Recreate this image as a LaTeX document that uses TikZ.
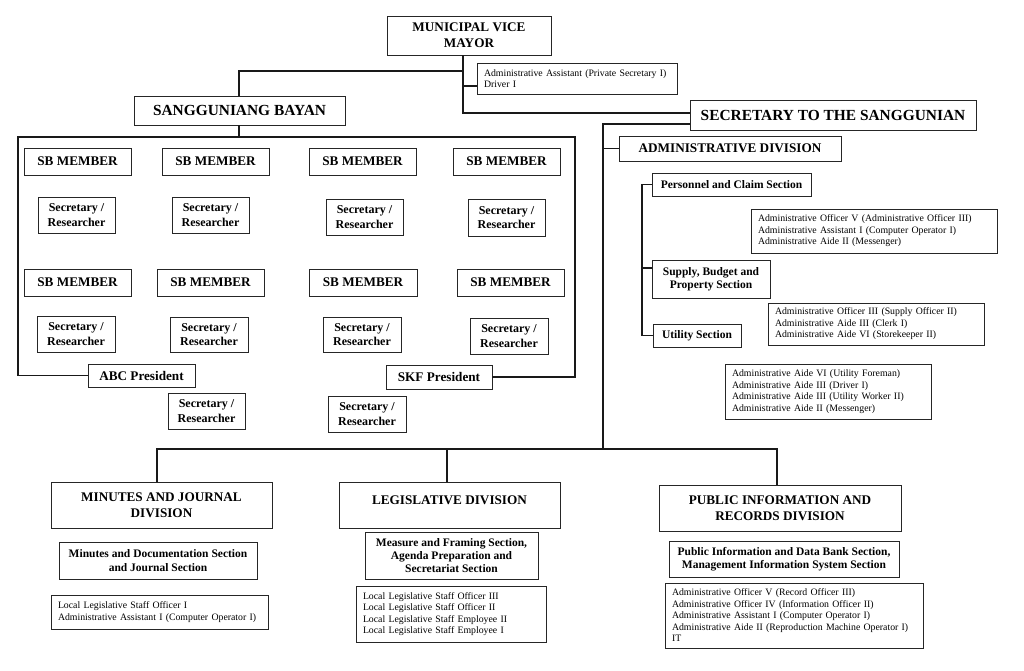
\documentclass[tikz,border=0pt]{standalone}
\usepackage{fontspec}
\setmainfont{Liberation Serif}
\begin{document}
\begin{tikzpicture}[x=1pt,y=-1pt,
  bx/.style={draw=black!85, line width=0.9pt, inner sep=0pt, align=center},
  tA/.style={font=\fontsize{15.4}{17}\selectfont\bfseries},
  tB/.style={font=\fontsize{13.2}{16}\selectfont\bfseries},
  tC/.style={font=\fontsize{12}{14.3}\selectfont\bfseries},
  tD/.style={font=\fontsize{11.5}{13.3}\selectfont\bfseries},
  staff/.style={draw=black!85, line width=0.9pt, inner xsep=7pt, inner ysep=0pt, align=left, font=\fontsize{9.8}{11.5}\selectfont},
  wire/.style={draw=black!90, line width=1.6pt}]
\useasboundingbox (0,0) rectangle (1024,670);
\fill[white] (0,0) rectangle (1024,670);

% top
\node[bx,tB,minimum width=164pt,minimum height=39pt] (mvm) at (469,35.5) {MUNICIPAL VICE\\MAYOR};
\node[staff,text width=186pt,minimum height=31pt] (mvmstaff) at (577,78.5) {Administrative Assistant (Private Secretary I)\\Driver I};
\node[bx,tA,minimum width=211pt,minimum height=29pt] (sb) at (239.5,110.5) {SANGGUNIANG BAYAN};
\node[bx,tA,minimum width=286pt,minimum height=30pt] (sec) at (833,115) {SECRETARY TO THE SANGGUNIAN};

% SB members
\node[bx,tB,minimum width=107pt,minimum height=27pt] (sb1) at (77.5,161.5) {SB MEMBER};
\node[bx,tB,minimum width=107pt,minimum height=27pt] (sb2) at (215.5,161.5) {SB MEMBER};
\node[bx,tB,minimum width=107pt,minimum height=27pt] (sb3) at (362.5,161.5) {SB MEMBER};
\node[bx,tB,minimum width=107pt,minimum height=27pt] (sb4) at (506.5,161.5) {SB MEMBER};
\node[bx,tC,minimum width=77pt,minimum height=36pt] (s1) at (76.5,215) {Secretary /\\Researcher};
\node[bx,tC,minimum width=77pt,minimum height=36pt] (s2) at (210.5,215) {Secretary /\\Researcher};
\node[bx,tC,minimum width=77pt,minimum height=36pt] (s3) at (364.5,217) {Secretary /\\Researcher};
\node[bx,tC,minimum width=77pt,minimum height=37pt] (s4) at (506.5,217.5) {Secretary /\\Researcher};
\node[bx,tB,minimum width=107pt,minimum height=27pt] (sb5) at (77.5,282.5) {SB MEMBER};
\node[bx,tB,minimum width=107pt,minimum height=27pt] (sb6) at (210.5,282.5) {SB MEMBER};
\node[bx,tB,minimum width=108pt,minimum height=27pt] (sb7) at (363,282.5) {SB MEMBER};
\node[bx,tB,minimum width=107pt,minimum height=27pt] (sb8) at (510.5,282.5) {SB MEMBER};
\node[bx,tC,minimum width=78pt,minimum height=36pt] (s5) at (76,334) {Secretary /\\Researcher};
\node[bx,tC,minimum width=78pt,minimum height=35pt] (s6) at (209,334.5) {Secretary /\\Researcher};
\node[bx,tC,minimum width=78pt,minimum height=35pt] (s7) at (362,334.5) {Secretary /\\Researcher};
\node[bx,tC,minimum width=78pt,minimum height=36pt] (s8) at (509,336) {Secretary /\\Researcher};
\node[bx,tB,minimum width=107pt,minimum height=23pt] (abc) at (141.5,375.5) {ABC President};
\node[bx,tC,minimum width=77pt,minimum height=36pt] (sabc) at (206.5,411) {Secretary /\\Researcher};
\node[bx,tB,minimum width=106pt,minimum height=24pt] (skf) at (439,377) {SKF President};
\node[bx,tC,minimum width=78pt,minimum height=36pt] (sskf) at (367,414) {Secretary /\\Researcher};

% administrative division
\node[bx,tB,minimum width=222pt,minimum height=25pt] (adm) at (730,148.5) {ADMINISTRATIVE DIVISION};
\node[bx,tD,minimum width=159pt,minimum height=23pt] (pers) at (731.5,184.5) {Personnel and Claim Section};
\node[staff,text width=232pt,minimum height=44pt] (staffA) at (874,231) {Administrative Officer V (Administrative Officer III)\\Administrative Assistant I (Computer Operator I)\\Administrative Aide II (Messenger)};
\node[bx,tD,minimum width=118pt,minimum height=38pt] (supply) at (711,279) {Supply, Budget and\\Property Section};
\node[staff,text width=202pt,minimum height=42pt] (staffB) at (876,324) {Administrative Officer III (Supply Officer II)\\Administrative Aide III (Clerk I)\\Administrative Aide VI (Storekeeper II)};
\node[bx,tD,minimum width=88pt,minimum height=23pt] (util) at (697,335.5) {Utility Section};
\node[staff,text width=192pt,minimum height=55pt] (staffC) at (828,391.5) {Administrative Aide VI (Utility Foreman)\\Administrative Aide III (Driver I)\\Administrative Aide III (Utility Worker II)\\Administrative Aide II (Messenger)};

% bottom divisions
\node[bx,tB,minimum width=221pt,minimum height=46pt] (mjd) at (161.5,505) {MINUTES AND JOURNAL\\DIVISION};
\node[bx,tD,minimum width=198pt,minimum height=37pt] (mjs) at (158,560.5) {Minutes and Documentation Section\\and Journal Section};
\node[staff,text width=203pt,minimum height=34pt] (mjstaff) at (159.5,612) {Local Legislative Staff Officer I\\Administrative Assistant I (Computer Operator I)};
\node[bx,tB,minimum width=221pt,minimum height=46pt,text depth=10pt] (leg) at (449.5,505) {LEGISLATIVE DIVISION};
\node[bx,tD,minimum width=173pt,minimum height=47pt] (legs) at (451.5,555.5) {Measure and Framing Section,\\Agenda Preparation and\\Secretariat Section};
\node[staff,text width=176pt,minimum height=56pt] (legstaff) at (451,614) {Local Legislative Staff Officer III\\Local Legislative Staff Officer II\\Local Legislative Staff Employee II\\Local Legislative Staff Employee I};
\node[bx,tB,minimum width=242pt,minimum height=46pt] (pird) at (780,508) {PUBLIC INFORMATION AND\\RECORDS DIVISION};
\node[bx,tD,minimum width=230pt,minimum height=36pt] (pirds) at (784,559) {Public Information and Data Bank Section,\\Management Information System Section};
\node[staff,text width=244pt,minimum height=65pt] (pirdstaff) at (794,615.5) {Administrative Officer V (Record Officer III)\\Administrative Officer IV (Information Officer II)\\Administrative Assistant I (Computer Operator I)\\Administrative Aide II (Reproduction Machine Operator I)\\IT};

% junction coordinates
\coordinate (jm1) at (463,71);
\coordinate (jm2) at (463,86);
\coordinate (jm3) at (463,113);
\coordinate (jsb) at (239,71);
\coordinate (ftl) at (18,137);
\coordinate (ftr) at (575,137);
\coordinate (jsec) at (603,124);
\coordinate (bus) at (603,449);
\coordinate (bl) at (157,449);
\coordinate (bm) at (447,449);
\coordinate (br) at (777,449);
\coordinate (pb) at (642,184.5);
\coordinate (sj) at (642,268);

% connectors
\draw[wire] (mvm.south -| jm1) -- (jm3) -- (sec.west |- jm3);
\draw[wire] (jm1) -- (jsb) -- (sb.north -| jsb);
\draw[wire] (jm2) -- (mvmstaff.west |- jm2);
\draw[wire] (sb.south -| jsb) -- (ftl -| jsb);
\draw[wire] (abc.west) -| (ftl) -- (ftr) |- (skf.east);
\draw[wire] (sec.west |- jsec) -- (jsec) -- (bus);
\draw[wire] (adm.west) -- (adm.west -| jsec);
\draw[wire] (mjd.north -| bl) -- (bl) -- (br) -- (pird.north -| br);
\draw[wire] (bm) -- (leg.north -| bm);
\draw[wire] (pers.west) -- (pb) -- (util.west -| pb) -- (util.west);
\draw[wire] (sj) -- (supply.west |- sj);
\end{tikzpicture}
\end{document}
